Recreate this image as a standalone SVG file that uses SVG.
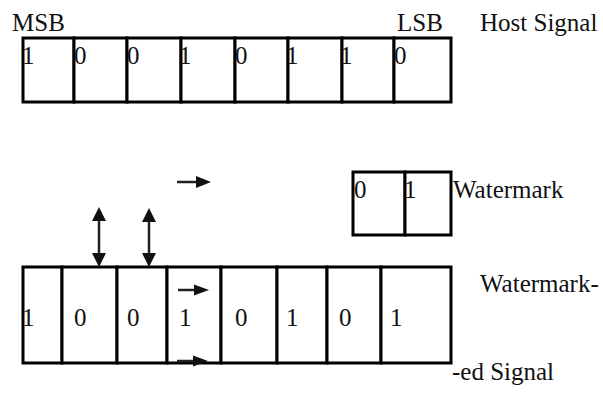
<svg xmlns="http://www.w3.org/2000/svg" width="603" height="393" viewBox="0 0 603 393">
<style>
.cell{fill:#fff;stroke:#000;stroke-width:3}
text{font-family:'Liberation Serif','Times New Roman','DejaVu Serif',serif;font-size:25px;fill:#111}
.arr{stroke:#222;stroke-width:2.5;fill:none}
.head{fill:#111}
</style>
<rect width="603" height="393" fill="#fff"/>

<g id="host-signal">
<rect class="cell" x="23" y="38" width="51" height="64"/>
<rect class="cell" x="74" y="38" width="53" height="64"/>
<rect class="cell" x="127" y="38" width="54" height="64"/>
<rect class="cell" x="181" y="38" width="54" height="64"/>
<rect class="cell" x="235" y="38" width="53" height="64"/>
<rect class="cell" x="288" y="38" width="54" height="64"/>
<rect class="cell" x="342" y="38" width="52" height="64"/>
<rect class="cell" x="394" y="38" width="57" height="64"/>
<text x="22" y="64">1</text>
<text x="74" y="64">0</text>
<text x="127" y="64">0</text>
<text x="179" y="64">1</text>
<text x="235" y="64">0</text>
<text x="286" y="64">1</text>
<text x="340" y="64">1</text>
<text x="394" y="64">0</text>
<text x="12" y="31">MSB</text>
<text x="397" y="31">LSB</text>
<text x="480" y="31">Host Signal</text>
</g>

<g id="watermark">
<rect class="cell" x="353" y="172" width="52" height="63"/>
<rect class="cell" x="405" y="172" width="46" height="63"/>
<text x="354" y="198">0</text>
<text x="404" y="198">1</text>
<text x="453" y="198">Watermark</text>
</g>

<g id="watermarked-signal">
<rect class="cell" x="23" y="267" width="39" height="96"/>
<rect class="cell" x="62" y="267" width="55" height="96"/>
<rect class="cell" x="117" y="267" width="50" height="96"/>
<rect class="cell" x="167" y="267" width="54" height="96"/>
<rect class="cell" x="221" y="267" width="56" height="96"/>
<rect class="cell" x="277" y="267" width="50" height="96"/>
<rect class="cell" x="327" y="267" width="54" height="96"/>
<rect class="cell" x="381" y="267" width="70" height="96"/>
<text x="22" y="326">1</text>
<text x="74" y="326">0</text>
<text x="127" y="326">0</text>
<text x="179" y="326">1</text>
<text x="235" y="326">0</text>
<text x="286" y="326">1</text>
<text x="339" y="326">0</text>
<text x="390" y="326">1</text>
<text x="480" y="292">Watermark-</text>
<text x="452" y="380">-ed Signal</text>
</g>

<g id="connectors">
<line class="arr" x1="99" y1="215" x2="99" y2="258"/>
<path class="head" d="M99,207 L106,221 L92,221 z M99,267 L106,253 L92,253 z"/>
<line class="arr" x1="149" y1="216" x2="149" y2="258"/>
<path class="head" d="M149,208 L156,222 L142,222 z M149,267 L156,253 L142,253 z"/>
<line class="arr" x1="177" y1="182" x2="200" y2="182"/>
<path class="head" d="M211,182 L196,176 L196,188 z"/>
<line class="arr" x1="178" y1="290" x2="198" y2="290"/>
<path class="head" d="M209,290 L194,284.5 L194,295.5 z"/>
<line class="arr" x1="177" y1="361" x2="197" y2="361"/>
<path class="head" d="M208,361 L193,355.5 L193,366.5 z"/>
</g>
</svg>
